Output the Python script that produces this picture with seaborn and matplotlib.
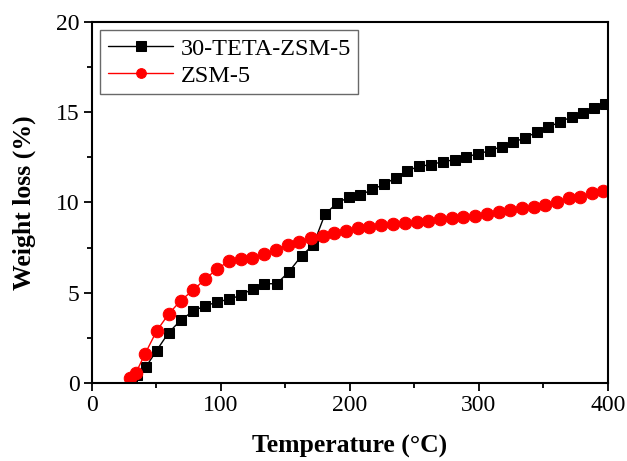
import matplotlib
matplotlib.use("Agg")
import matplotlib.pyplot as plt
import seaborn as sns
import pandas as pd
from matplotlib.ticker import MultipleLocator

teta_T = [31, 34.6, 41.9, 50.1, 59.4, 69, 78.5, 87.8, 97.1, 106.2, 115.5, 124.6, 133.6, 143.2,
          152.5, 162.5, 171.6, 180.6, 189.7, 199, 208, 217.3, 226.4, 235.4, 244.4, 253.5, 262.8,
          271.8, 281.2, 290.2, 299.2, 308.3, 317.6, 326.6, 335.7, 344.7, 353.7, 362.8, 371.9,
          380.9, 389.1, 397.7]
teta_W = [0.1, 0.44, 0.9, 1.8, 2.79, 3.49, 3.99, 4.28, 4.48, 4.65, 4.85, 5.23, 5.5, 5.5,
          6.15, 7.05, 7.66, 9.35, 9.95, 10.29, 10.4, 10.73, 11.0, 11.37, 11.76, 12.0, 12.1,
          12.26, 12.37, 12.54, 12.69, 12.87, 13.1, 13.33, 13.59, 13.89, 14.18, 14.46, 14.75,
          14.98, 15.22, 15.44]

zsm_T = [29.5, 33.9, 41.1, 50.1, 59.4, 68.7, 78.5, 87.6, 96.7, 106.4, 115.3, 124.3, 133.6, 142.6,
         151.6, 160.6, 170, 179, 187.8, 196.9, 206.2, 215, 224.3, 233.3, 242.4, 251.7, 260.7,
         269.8, 278.8, 287.8, 296.9, 306, 315.3, 324.3, 333.3, 342.4, 351.4, 360.5, 369.5,
         378.5, 387.6, 396.4]
zsm_W = [0.26, 0.54, 1.61, 2.88, 3.82, 4.56, 5.15, 5.74, 6.31, 6.76, 6.85, 6.94, 7.15, 7.39,
         7.65, 7.81, 8.04, 8.17, 8.33, 8.44, 8.57, 8.66, 8.75, 8.81, 8.88, 8.94, 8.99,
         9.07, 9.12, 9.21, 9.27, 9.35, 9.46, 9.58, 9.68, 9.77, 9.88, 10.01, 10.23,
         10.32, 10.51, 10.65]

labels = ["30-TETA-ZSM-5", "ZSM-5"]

sns.set_style("ticks", {"axes.edgecolor": "black", "text.color": "black",
                        "axes.labelcolor": "black", "xtick.color": "black",
                        "ytick.color": "black"})
plt.rcParams['font.family'] = ['Liberation Serif', 'DejaVu Serif']

fig = plt.figure(figsize=(6.27, 4.61), dpi=100)
ax = fig.add_axes([0.1467, 0.1692, 0.823, 0.7831])

df1 = pd.DataFrame({"T": teta_T, "W": teta_W})
df2 = pd.DataFrame({"T": zsm_T, "W": zsm_W})

sns.lineplot(data=df1, x="T", y="W", ax=ax, color="black", marker="s", markersize=7,
             markeredgecolor="black", linewidth=1, label=labels[0], estimator=None, sort=False)
sns.lineplot(data=df2, x="T", y="W", ax=ax, color="#ff0000", marker="o", markersize=9,
             markeredgecolor="#ff0000", linewidth=1, label=labels[1], estimator=None, sort=False)

ax.set_xlim(0, 400)
ax.set_ylim(0, 20)
ax.xaxis.set_major_locator(MultipleLocator(100))
ax.xaxis.set_minor_locator(MultipleLocator(50))
ax.yaxis.set_major_locator(MultipleLocator(5))
ax.yaxis.set_minor_locator(MultipleLocator(2.5))
ax.tick_params(which="major", direction="out", length=6, width=1.3, labelsize=17, pad=3,
               colors="black")
ax.tick_params(which="minor", direction="out", length=3.5, width=1.3, colors="black")
for s in ax.spines.values():
    s.set_linewidth(1.5)
    s.set_color("black")
    s.set_visible(True)

ax.set_xlabel("Temperature (°C)", fontsize=18.5, fontweight="bold", labelpad=13, color="black")
ax.set_ylabel("Weight loss (%)", fontsize=18.5, fontweight="bold", labelpad=14, color="black")

leg = ax.legend(loc="upper left", bbox_to_anchor=(0.0, 1.0), fontsize=17.5, frameon=True,
                fancybox=False, edgecolor="#444444", handlelength=2.7, borderaxespad=0.35,
                labelspacing=0.2, handletextpad=0.3, borderpad=0.3)
leg.get_frame().set_linewidth(1.0)
for t in leg.get_texts():
    t.set_color("black")
for h in leg.legend_handles:
    h.set_markersize(7)

fig.savefig("out.png", dpi=100)
